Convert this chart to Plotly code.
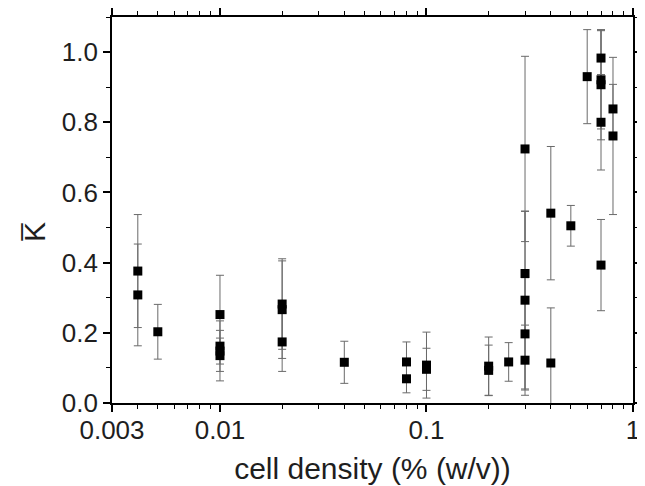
import plotly.graph_objects as go

# Data
density = [0.004, 0.004, 0.005,
           0.01, 0.01, 0.01, 0.01,
           0.02, 0.02, 0.02,
           0.04,
           0.08, 0.08,
           0.1, 0.1,
           0.2, 0.2,
           0.25,
           0.3, 0.3, 0.3, 0.3, 0.3,
           0.4, 0.4,
           0.5,
           0.6,
           0.7, 0.7, 0.7, 0.7, 0.7,
           0.8, 0.8]
kappa = [0.376, 0.308, 0.203,
         0.252, 0.162, 0.148, 0.135,
         0.282, 0.266, 0.174,
         0.116,
         0.117, 0.069,
         0.108, 0.096,
         0.105, 0.093,
         0.117,
         0.724, 0.369, 0.293, 0.197, 0.122,
         0.541, 0.114,
         0.505,
         0.930,
         0.983, 0.921, 0.907, 0.800, 0.393,
         0.838, 0.761]
kappa_err = [0.161, 0.145, 0.078,
             0.112, 0.072, 0.037, 0.072,
             0.129, 0.139, 0.084,
             0.060,
             0.057, 0.040,
             0.094, 0.060,
             0.083, 0.072,
             0.055,
             0.264, 0.178, 0.253, 0.160, 0.100,
             0.190, 0.157,
             0.058,
             0.134,
             0.080, 0.140, 0.157, 0.136, 0.130,
             0.070, 0.224]

x_tick_vals = [0.003, 0.01, 0.1, 1]
x_tick_text = ["0.003", "0.01", "0.1", "1"]
x_minor_vals = [0.004, 0.005, 0.006, 0.007, 0.008, 0.009,
                0.02, 0.03, 0.04, 0.05, 0.06, 0.07, 0.08, 0.09,
                0.2, 0.3, 0.4, 0.5, 0.6, 0.7, 0.8, 0.9]

fig = go.Figure(go.Scatter(
    x=density, y=kappa, mode="markers",
    marker=dict(symbol="square", size=9, color="black"),
    error_y=dict(type="data", array=kappa_err, visible=True,
                 color="#6a6a6a", thickness=1, width=4),
    showlegend=False,
))

font_family = "Liberation Sans, Arial, sans-serif"
text_color = "#1e1e1e"

# the page body adds an 8px offset; the figure size compensates for it
fig.update_layout(
    width=637, height=478,
    margin=dict(l=104, r=12, t=9, b=83),
    paper_bgcolor="white", plot_bgcolor="white",
    font=dict(family=font_family, color=text_color),
)

fig.update_xaxes(
    type="log", range=[-2.5229, 0], automargin=False,
    tickvals=x_tick_vals, ticktext=x_tick_text,
    ticks="outside", ticklen=7, tickwidth=1.5, tickcolor="black",
    showline=True, linecolor="black", linewidth=1.8, mirror="allticks",
    showgrid=False, zeroline=False,
    tickfont=dict(size=26, color=text_color), ticklabelstandoff=-4,
    minor=dict(tickvals=x_minor_vals, ticks="outside", ticklen=4,
               tickwidth=1, tickcolor="black", showgrid=False),
    title=dict(text="cell density (% (w/v))", font=dict(size=30, color=text_color),
               standoff=14),
)

fig.update_yaxes(
    range=[0, 1.1], dtick=0.2, tick0=0, tickformat=".1f", automargin=False,
    ticks="outside", ticklen=7, tickwidth=1.5, tickcolor="black",
    showline=True, linecolor="black", linewidth=1.8, mirror="allticks",
    showgrid=False, zeroline=False,
    tickfont=dict(size=26, color=text_color),
    minor=dict(dtick=0.1, ticks="outside", ticklen=4, tickwidth=1,
               tickcolor="black", showgrid=False),
)

fig.add_annotation(
    text="K\u0305", xref="paper", yref="paper", x=-0.184, y=0.442,
    textangle=-90, showarrow=False, font=dict(size=30, color=text_color),
)

fig.write_html("out.html")
